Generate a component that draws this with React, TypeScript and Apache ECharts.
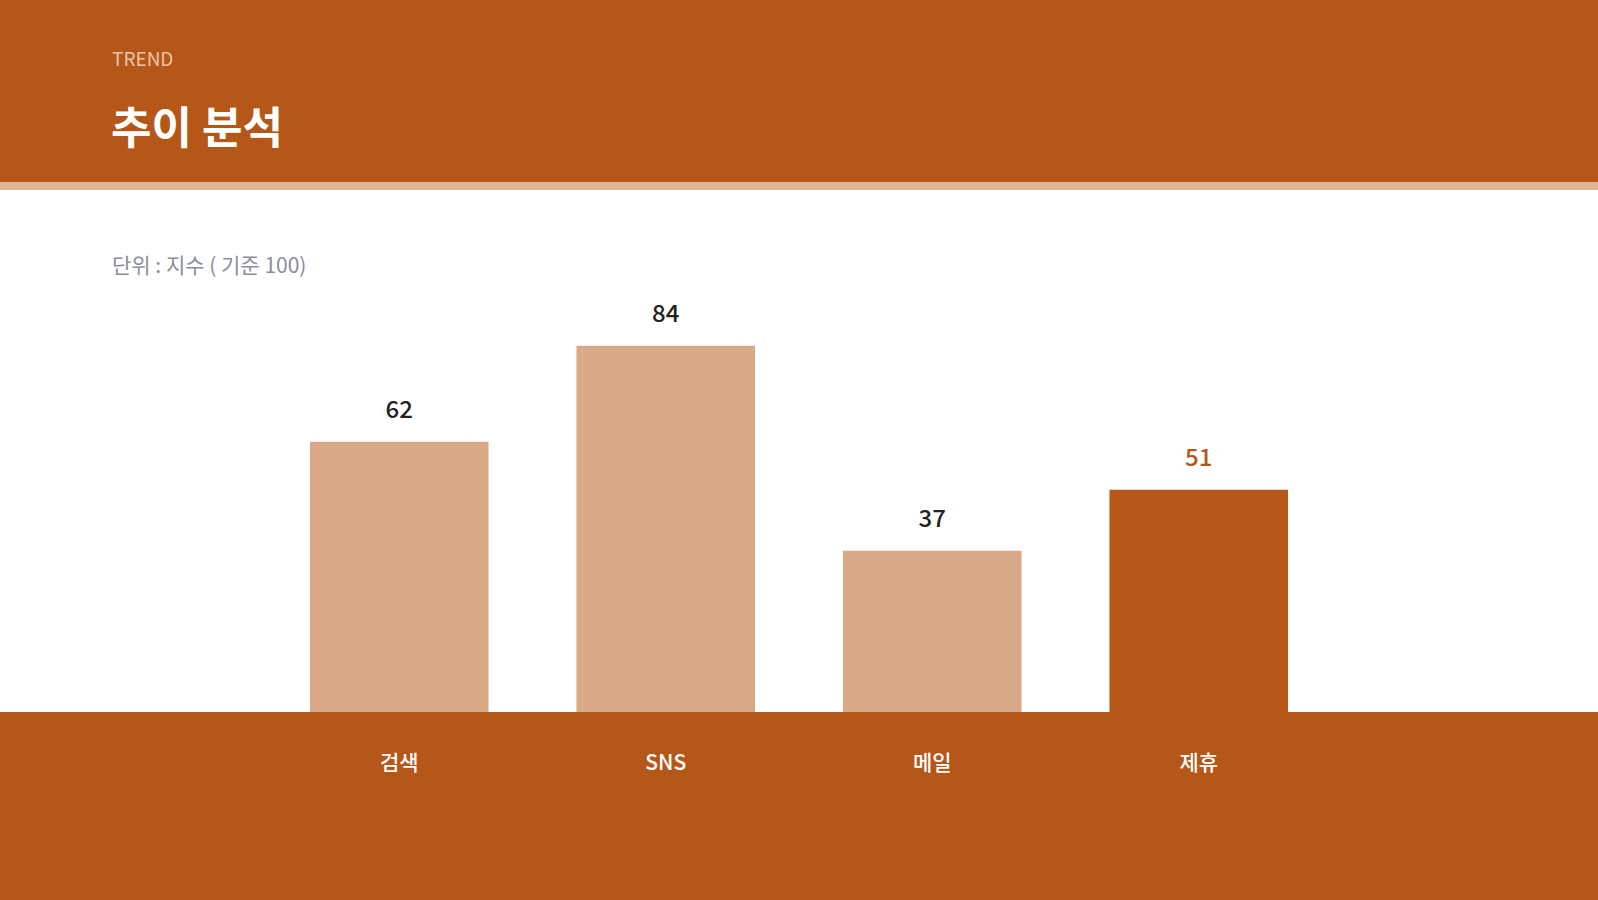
import { useEffect, useRef } from 'react';
import * as echarts from 'echarts';

const categories = ['검색', 'SNS', '메일', '제휴'];
const values = [62, 84, 37, 51];
const highlightIndex = 3;

const ORANGE = '#B45719';
const LIGHT = '#D9A988';
const STRIPE = '#DEB597';
const FONT = '"Noto Sans CJK KR", "Noto Sans", sans-serif';

export default function App() {
    const chartRef = useRef<HTMLDivElement>(null);

    useEffect(() => {
        if (!chartRef.current) return;
        const chart = echarts.init(chartRef.current, undefined, { renderer: 'svg' });

        const option: echarts.EChartsOption = {
            animation: false,
            backgroundColor: '#ffffff',
            textStyle: { fontFamily: FONT },
            title: [
                {
                    text: 'TREND',
                    left: 107,
                    top: 43,
                    textStyle: { color: '#EBC4A8', fontSize: 19, fontWeight: 400, fontFamily: FONT }
                },
                {
                    text: '추이 분석',
                    left: 106,
                    top: 98,
                    textStyle: { color: '#ffffff', fontSize: 44, fontWeight: 700, fontFamily: FONT }
                },
                {
                    text: '단위 : 지수 ( 기준 100)',
                    left: 107,
                    top: 248,
                    textStyle: { color: '#8A8F99', fontSize: 21, fontWeight: 400, fontFamily: FONT }
                }
            ],
            graphic: [
                // header band
                { type: 'rect', left: 0, top: 0, z: -10, shape: { width: 1598, height: 182 }, style: { fill: ORANGE } },
                { type: 'rect', left: 0, top: 182, z: -10, shape: { width: 1598, height: 8 }, style: { fill: STRIPE } },
                // footer band
                { type: 'rect', left: 0, top: 712, z: -10, shape: { width: 1598, height: 188 }, style: { fill: ORANGE } }
            ],
            grid: {
                left: 266,
                right: 266,
                top: 276,
                bottom: 188
            },
            xAxis: {
                type: 'category',
                data: categories,
                axisLine: { show: false },
                axisTick: { show: false },
                axisLabel: {
                    color: '#ffffff',
                    fontSize: 21,
                    fontWeight: 500,
                    fontFamily: FONT,
                    margin: 38
                }
            },
            yAxis: {
                type: 'value',
                min: 0,
                max: 100,
                show: false,
                splitLine: { show: false }
            },
            series: [
                {
                    type: 'bar',
                    barWidth: '67%',
                    data: values.map((v, i) => ({
                        value: v,
                        itemStyle: { color: i === highlightIndex ? ORANGE : LIGHT },
                        label: { color: i === highlightIndex ? ORANGE : '#222222' }
                    })),
                    label: {
                        show: true,
                        position: 'top',
                        distance: 22,
                        fontSize: 24,
                        fontWeight: 500,
                        fontFamily: FONT
                    }
                }
            ]
        };

        chart.setOption(option);

        return () => {
            chart.dispose();
        };
    }, []);

    return (
        <div
            ref={chartRef}
            style={{ position: 'absolute', left: 0, top: 0, width: '1598px', height: '900px' }}
        />
    );
}
